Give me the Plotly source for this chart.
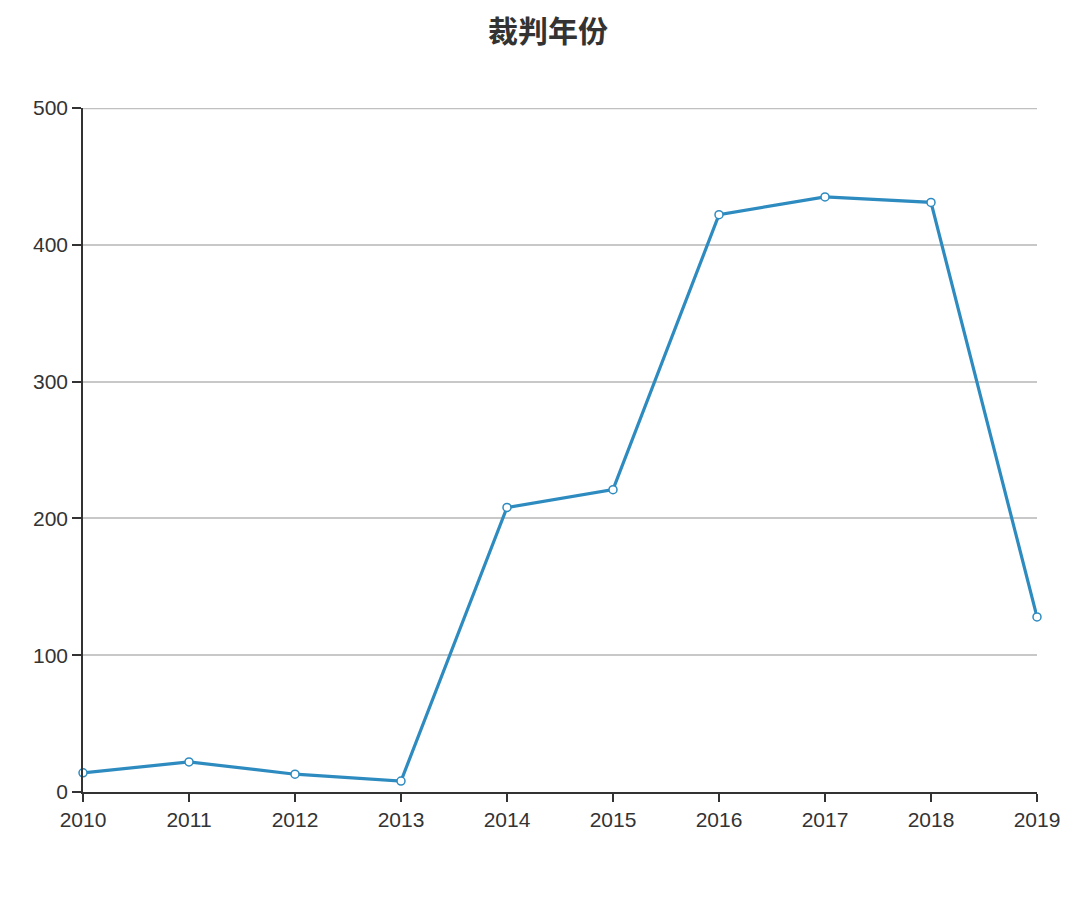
import plotly.graph_objects as go

years = [2010, 2011, 2012, 2013, 2014, 2015, 2016, 2017, 2018, 2019]
counts = [14, 22, 13, 8, 208, 221, 422, 435, 431, 128]
y_ticks = [0, 100, 200, 300, 400, 500]
title_text = '裁判年份'

fig = go.Figure()
fig.add_trace(go.Scatter(
    x=years,
    y=counts,
    mode='lines+markers',
    line=dict(color='#2e8bc0', width=3.2),
    marker=dict(size=8, color='white', line=dict(color='#2e8bc0', width=1.5)),
    cliponaxis=False,
    showlegend=False,
))

# the top gridline at 500 sits on the range edge, plotly skips it
fig.add_shape(type='line', xref='paper', yref='y', x0=0, x1=1,
              y0=y_ticks[-1], y1=y_ticks[-1],
              line=dict(color='#c0c0c0', width=2.5), layer='below')

fig.update_layout(
    width=1080, height=900,
    paper_bgcolor='white', plot_bgcolor='white',
    margin=dict(l=75, r=51, t=100, b=116),
    font=dict(family='Liberation Sans, Arial, sans-serif', size=21, color='#333'),
    title=dict(
        text=f'<b>{title_text}</b>',
        x=0.5, xanchor='center', y=0.974, yanchor='middle',
        font=dict(family='Noto Sans CJK SC, sans-serif', size=30, color='#333'),
    ),
    xaxis=dict(
        range=[2010, 2019], tickvals=years, ticktext=[str(y) for y in years],
        showgrid=False, zeroline=False,
        showline=True, linecolor='#333', linewidth=1.5,
        ticks='outside', ticklen=8, tickcolor='#333', tickwidth=1.5,
    ),
    yaxis=dict(
        range=[0, 500], tickvals=y_ticks,
        showgrid=True, gridcolor='#c8c8c8', gridwidth=1.5,
        zeroline=False,
        showline=True, linecolor='#333', linewidth=1.5,
        ticks='outside', ticklen=9, tickcolor='#333', tickwidth=1.5,
    ),
)

fig.write_html('out.html')
